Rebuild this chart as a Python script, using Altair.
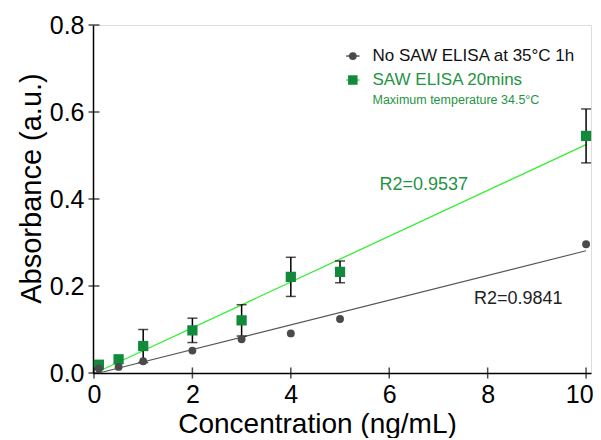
import altair as alt
import pandas as pd

# ---- data ----
conc = [0.1, 0.5, 1, 2, 3, 4, 5, 10]
no_saw = [0.010, 0.014, 0.027, 0.0515, 0.0775, 0.091, 0.124, 0.296]
saw = [0.019, 0.0315, 0.062, 0.098, 0.121, 0.221, 0.2325, 0.545]
saw_err = [0.0, 0.0, 0.038, 0.028, 0.036, 0.045, 0.025, 0.062]

fit_x = [0.1, 10]
fit_no_saw = [0.0, 0.281]
fit_saw = [0.004, 0.525]

x_ticks = [0, 2, 4, 6, 8, 10]
y_ticks = [0, 0.2, 0.4, 0.6, 0.8]

legend_labels = ["No SAW ELISA at 35°C 1h", "SAW ELISA 20mins"]
legend_sub = "Maximum temperature 34.5°C"
r2_saw = "R2=0.9537"
r2_no_saw = "R2=0.9841"

FONT = "Liberation Sans"
GRAY = "#4a4a4a"
GRAY_LINE = "#555555"
GREEN = "#128a3b"
GREEN_LINE = "#33ee33"
GREEN_TEXT = "#1f9443"

xs = alt.Scale(domain=[-0.02, 10.1], nice=False, zero=False)
ys = alt.Scale(domain=[0, 0.8], nice=False, zero=False)

xaxis = alt.Axis(values=x_ticks, ticks=False, grid=False, domainColor="black", domainWidth=1.5,
                 labelFont=FONT, labelFontSize=25, labelColor="black", labelPadding=9,
                 labelFlush=6, labelFlushOffset=7, labelOverlap=False, format="d",
                 titleFont=FONT, titleFontSize=28, titleFontWeight="normal", titleColor="black",
                 titleX=224, titleY=59, titleBaseline="alphabetic", titleAlign="center")
yaxis = alt.Axis(values=y_ticks, ticks=False, grid=False, domainColor="black", domainWidth=1.5,
                 labelFont=FONT, labelFontSize=25, labelColor="black", labelPadding=9,
                 labelFlush=False, labelOverlap=False, format=".1f",
                 titleFont=FONT, titleFontSize=29, titleFontWeight="normal", titleColor="black",
                 titlePadding=3, titleY=163)

XT = "Concentration (ng/mL)"
YT = "Absorbance (a.u.)"


def X(f):
    return alt.X(f, type="quantitative", scale=xs, axis=xaxis, title=XT)


def Y(f):
    return alt.Y(f, type="quantitative", scale=ys, axis=yaxis, title=YT)


pts = pd.DataFrame({"x": conc, "g": no_saw, "s": saw, "e": saw_err})
pts["lo"] = pts["s"] - pts["e"]
pts["hi"] = pts["s"] + pts["e"]
errs = pts[pts["e"] > 0]

fits = pd.DataFrame({"x": fit_x, "g": fit_no_saw, "s": fit_saw})

line_g = alt.Chart(fits).mark_line(color=GRAY_LINE, strokeWidth=1.1).encode(x=X("x"), y=Y("g"))
line_s = alt.Chart(fits).mark_line(color=GREEN_LINE, strokeWidth=1.3).encode(x=X("x"), y=Y("s"))

err_rule = alt.Chart(errs).mark_rule(color="black", strokeWidth=1.5).encode(
    x=X("x"), y=Y("lo"), y2="hi")
cap_lo = alt.Chart(errs).mark_tick(orient="horizontal", color="black", size=10, thickness=1.5).encode(
    x=X("x"), y=Y("lo"))
cap_hi = alt.Chart(errs).mark_tick(orient="horizontal", color="black", size=10, thickness=1.5).encode(
    x=X("x"), y=Y("hi"))

squares = alt.Chart(pts).mark_square(size=105, color=GREEN, opacity=1).encode(x=X("x"), y=Y("s"))
circles = alt.Chart(pts).mark_circle(size=62, color=GRAY, opacity=1).encode(x=X("x"), y=Y("g"))

xt = pd.DataFrame({"x": x_ticks, "y": [0] * len(x_ticks)})
yt = pd.DataFrame({"x": [0] * len(y_ticks), "y": y_ticks})
xtick = alt.Chart(xt).mark_tick(orient="vertical", color="black", size=11, thickness=1.5).encode(
    x=X("x"), y=Y("y"))
ytick = alt.Chart(yt).mark_tick(orient="horizontal", color="black", size=11, thickness=1.5).encode(
    x=X("x"), y=Y("y"))

# R2 annotations
r2 = pd.DataFrame({"x": [6.7, 8.62], "y": [0.432, 0.17], "t": [r2_saw, r2_no_saw],
                   "c": [GREEN_TEXT, "#222222"]})
r2_text = alt.Chart(r2).mark_text(font=FONT, fontSize=18, align="center", baseline="middle").encode(
    x=X("x"), y=Y("y"), text="t:N", color=alt.Color("c:N", scale=None))

# custom legend
leg_seg = pd.DataFrame({"x": [5.126, 5.396, 5.126, 5.396], "y": [0.7287, 0.7287, 0.6735, 0.6735],
                        "k": ["a", "a", "b", "b"]})
leg_line_g = alt.Chart(leg_seg[leg_seg.k == "a"]).mark_line(color=GRAY_LINE, strokeWidth=1.5).encode(
    x=X("x"), y=Y("y"))
leg_line_s = alt.Chart(leg_seg[leg_seg.k == "b"]).mark_line(color=GREEN_LINE, strokeWidth=1.5).encode(
    x=X("x"), y=Y("y"))
leg_pt = pd.DataFrame({"x": [5.26], "y1": [0.7287], "y2": [0.6735]})
leg_c = alt.Chart(leg_pt).mark_circle(size=60, color=GRAY, opacity=1).encode(x=X("x"), y=Y("y1"))
leg_s = alt.Chart(leg_pt).mark_square(size=90, color=GREEN, opacity=1).encode(x=X("x"), y=Y("y2"))
leg_txt = pd.DataFrame({"x": [5.66, 5.66, 5.66], "y": [0.7287, 0.6735, 0.6275],
                        "t": [legend_labels[0], legend_labels[1], legend_sub],
                        "c": ["#111111", GREEN_TEXT, GREEN_TEXT]})
leg_t1 = alt.Chart(leg_txt.iloc[:2]).mark_text(font=FONT, fontSize=17, align="left", baseline="middle").encode(
    x=X("x"), y=Y("y"), text="t:N", color=alt.Color("c:N", scale=None))
leg_t2 = alt.Chart(leg_txt.iloc[2:]).mark_text(font=FONT, fontSize=12.5, align="left", baseline="middle").encode(
    x=X("x"), y=Y("y"), text="t:N", color=alt.Color("c:N", scale=None))

chart = alt.layer(
    line_g, line_s, err_rule, cap_lo, cap_hi, squares, circles, xtick, ytick,
    r2_text, leg_line_g, leg_line_s, leg_c, leg_s, leg_t1, leg_t2
).properties(
    width=498, height=348,
    autosize=alt.AutoSizeParams(type="none"),
    padding={"left": 85, "top": 17, "right": 2, "bottom": 65},
).configure_view(stroke="black", strokeWidth=1.5).configure(background="white")

chart.save("out.html", embed_options={"renderer": "svg", "actions": False})
